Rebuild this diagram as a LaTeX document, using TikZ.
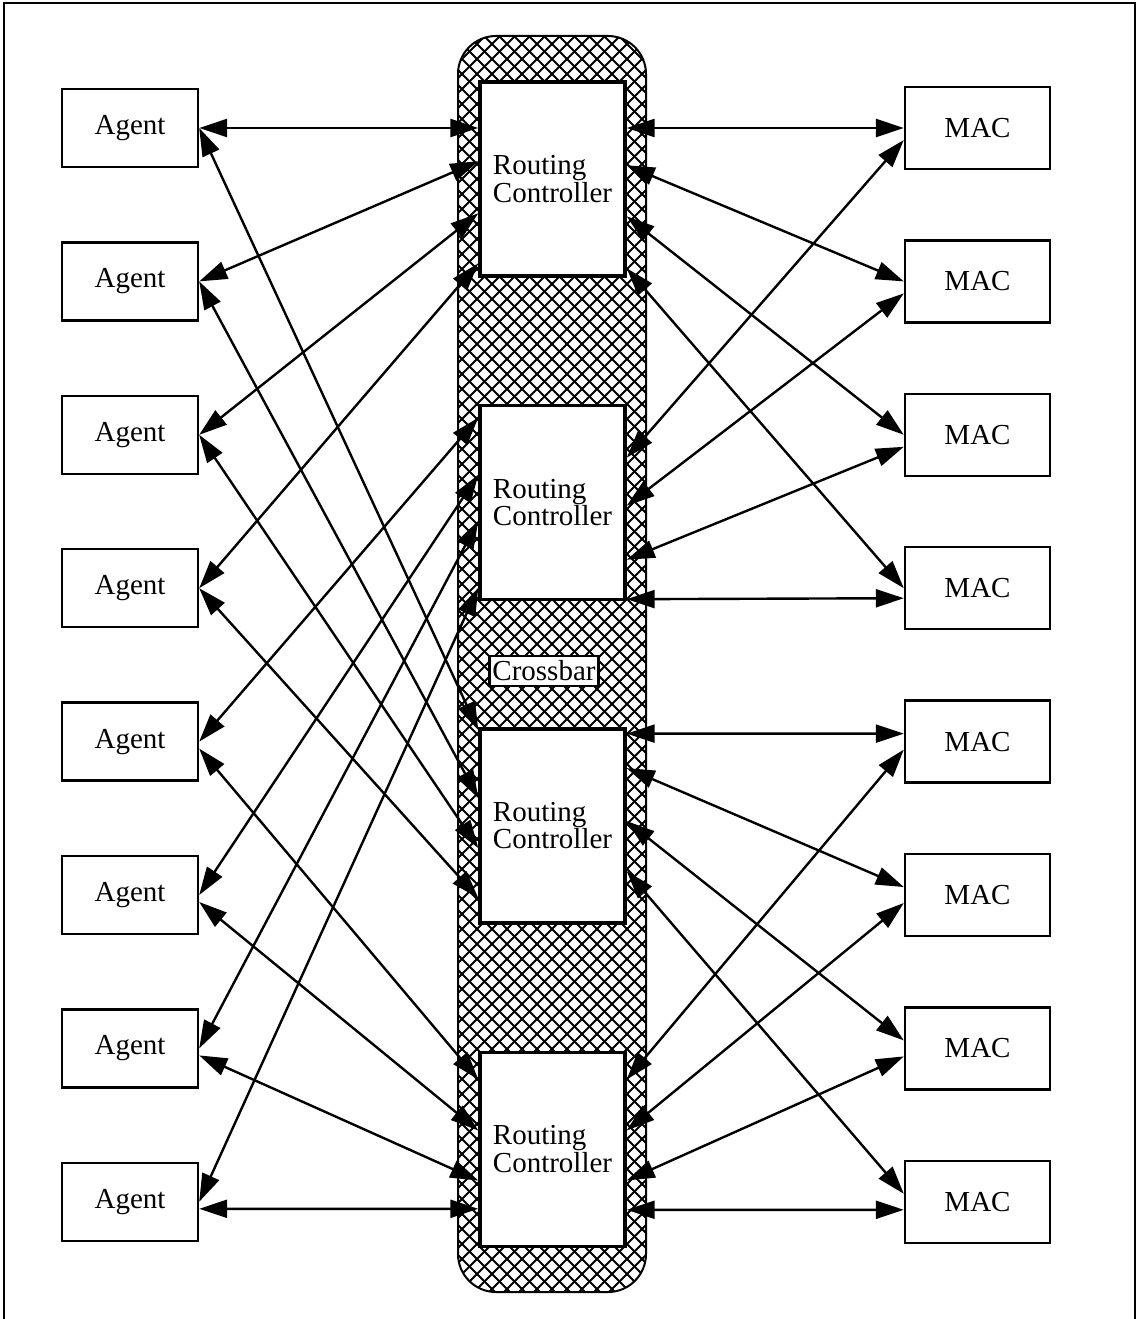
\documentclass[tikz,border=0pt]{standalone}
\usepackage{fontspec}
\setmainfont{Liberation Serif}
\usetikzlibrary{arrows.meta, positioning}

\begin{document}
\begin{tikzpicture}[
	  x=1pt, y=-1pt,
	  >={Triangle[length=28pt,width=18pt]},
	  box_style/.style={
	  	rectangle,
	  	draw,
	  	line width=2.4pt,
	  	fill=white,
	  	inner sep=0pt,
	  	text=black,
	  	font=\fontsize{29}{22}\selectfont
	  },
	  agent_style/.style={box_style, minimum width=136pt, minimum height=78pt},
	  mac_style/.style={box_style, minimum width=145pt, minimum height=82pt},
	  router_style/.style={
	  	box_style,
	  	line width=3.4pt,
	  	minimum width=145pt,
	  	minimum height=194pt,
	  	align=left
	  },
	  label_style/.style={box_style, inner xsep=3pt, inner ysep=5pt},
	  link/.style={<->, line width=2.4pt},
	  hatch/.style={line width=2pt}]
	\useasboundingbox (0,0) rectangle (1138,1319);
	% Frame
	\draw[line width=2.4pt] (4,1319) -- (4,3) -- (1135,3) -- (1135,1319);
	% Crossbar
	\begin{scope}
		\clip[rounded corners=38pt] (458,36) rectangle (646,1292);
		\foreach \c in {-200,-185,...,1300}
			\draw[hatch] (458,\c) -- ++(188,188) (646,\c) -- ++(-188,188);
	\end{scope}
	\draw[line width=2pt, rounded corners=38pt] (458,36) rectangle (646,1292);
	% Agents and MACs
	\node[agent_style] (a1) at (130,128) {Agent};
	\node[mac_style] (m1) at (977.5,128) {MAC};
	\foreach \i [remember=\i as \prev (initially 1)] in {2,...,8} {
		\node[agent_style, below=73pt of a\prev] (a\i) {Agent};
		\node[mac_style, below=69pt of m\prev] (m\i) {MAC};
	}
	% Routing controllers
	\node[router_style] (r1) at (552.5,179) {Routing\\Controller};
	\foreach \i [remember=\i as \prev (initially 1)] in {2,3,4}
		\node[router_style, below=126pt of r\prev] (r\i) {Routing\\Controller};
	\node[label_style] (xbar) at (544,671) {Crossbar};
	% Agent side links
	\foreach \a/\r/\dy/\e in {1/1/47.7/0, 2/1/81/0, 3/1/133/0, 4/1/183/0,
			5/2/14/0, 6/2/71/0, 7/2/117/0, 8/2/184/0,
			1/3/3/0, 2/3/71/0, 3/3/121/0, 4/3/171/0,
			5/4/29/-7, 6/4/80/-7, 7/4/130/-7, 8/4/158.3/-7}
		\draw[link] ([yshift=\e pt]a\a.east) -- ([yshift=-\dy pt]r\r.north west);
	% MAC side links
	\foreach \m/\r/\dy/\e in {1/1/47.7/0, 2/1/85/0, 3/1/136/0, 4/1/188/0,
			1/2/54/-12, 2/2/102/-12, 3/2/156/-12, 4/2/195.5/-10,
			5/3/6.5/8, 6/3/41/8, 7/3/94/8, 8/3/144/8,
			5/4/29/-8, 6/4/80/-8, 7/4/130/-8, 8/4/159.3/-8}
		\draw[link] ([yshift=-\dy pt]r\r.north east) -- ([yshift=\e pt]m\m.west);
\end{tikzpicture}
\end{document}
